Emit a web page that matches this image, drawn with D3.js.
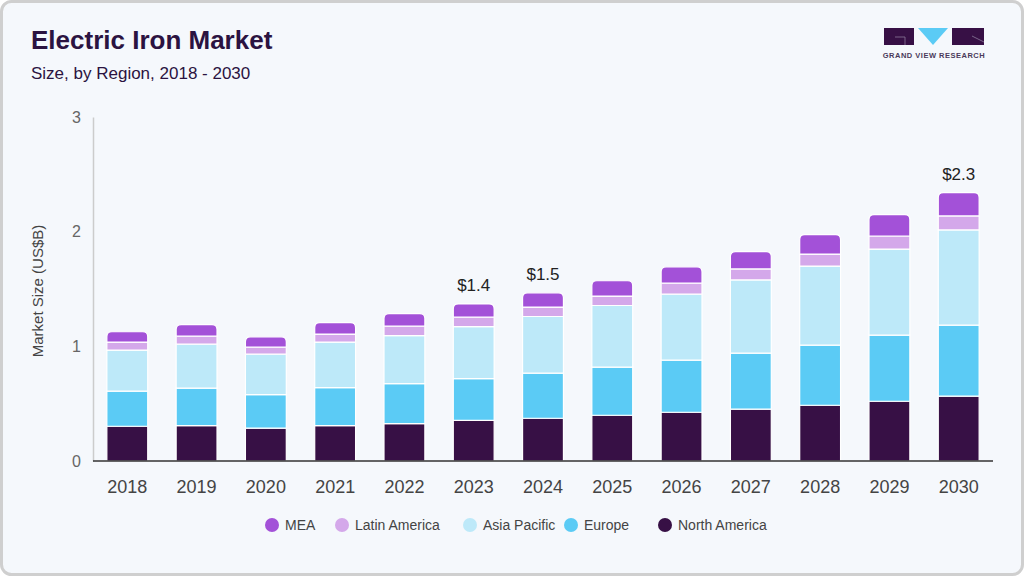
<!DOCTYPE html>
<html>
<head>
<meta charset="utf-8">
<script src="https://d3js.org/d3.v7.min.js"></script>
<style>
  html, body { margin: 0; padding: 0; background: #fff; }
  svg { display: block; font-family: "Liberation Sans", Arial, sans-serif; }
</style>
</head>
<body>
<div id="chart"></div>
<script>
// ---------- DATA ----------
var years = ["2018","2019","2020","2021","2022","2023","2024","2025","2026","2027","2028","2029","2030"];
var northAmerica = [0.303,0.308,0.286,0.308,0.326,0.355,0.373,0.399,0.425,0.452,0.486,0.521,0.565];
var europe       = [0.306,0.327,0.293,0.332,0.349,0.363,0.393,0.419,0.454,0.489,0.524,0.576,0.620];
var asiaPacific  = [0.358,0.384,0.353,0.397,0.419,0.454,0.494,0.538,0.576,0.638,0.690,0.751,0.830];
var latinAmerica = [0.070,0.070,0.061,0.070,0.082,0.082,0.082,0.082,0.096,0.096,0.105,0.114,0.122];
var mea          = [0.090,0.101,0.090,0.099,0.110,0.116,0.125,0.134,0.142,0.151,0.169,0.186,0.203];
var seriesNames = ["North America","Europe","Asia Pacific","Latin America","MEA"];
var seriesColors = ["#371045","#5BCBF5","#BDE9F9","#D4A8EA","#A351D8"];
var callouts = {"2023": "$1.4", "2024": "$1.5", "2030": "$2.3"};
var yTicks = [0,1,2,3];

var width = 1024, height = 576;
var margin = {left: 93, right: 31, top: 117, bottom: 115};

var svg = d3.select("#chart").append("svg")
  .attr("width", width).attr("height", height);

// card background
svg.append("rect")
  .attr("x", 1.5).attr("y", 1.5)
  .attr("width", width - 3).attr("height", height - 3)
  .attr("rx", 10)
  .style("fill", "#F5F8FC")
  .style("stroke", "#cfcfcf")
  .style("stroke-width", 3);

// ---------- TITLE -----------
svg.append("text").attr("x", 31).attr("y", 49)
  .text("Electric Iron Market")
  .style("font-size", "26px").style("font-weight", "bold").style("fill", "#2B1341");
svg.append("text").attr("x", 31).attr("y", 79)
  .text("Size, by Region, 2018 - 2030")
  .style("font-size", "17px").style("fill", "#2B1341");

// logo
var logo = svg.append("g");
logo.append("rect").attr("x", 884).attr("y", 28).attr("width", 30).attr("height", 17).style("fill", "#371045");
logo.append("path").attr("d", "M905,37 L905,45 M895,37 L905,37").style("stroke", "#8a7a9a").style("stroke-width", 0.8);
logo.append("path").attr("d", "M918,28 L948,28 L933,45 Z").style("fill", "#5BCBF5");
logo.append("rect").attr("x", 952).attr("y", 28).attr("width", 32).attr("height", 17).style("fill", "#371045");
logo.append("path").attr("d", "M972,36 L984,42").style("stroke", "#8a7a9a").style("stroke-width", 0.8);
logo.append("text").attr("x", 934).attr("y", 58).attr("text-anchor", "middle")
  .text("GRAND VIEW RESEARCH")
  .style("font-size", "7.5px").style("font-weight", "bold").style("fill", "#4a3a5a").style("letter-spacing", "0.5px");

// ---------- SCALES ----------
var x = d3.scaleBand().domain(years)
  .range([margin.left, width - margin.right])
  .paddingInner(0.41).paddingOuter(0.2);
var y = d3.scaleLinear().domain([0, 3])
  .range([height - margin.bottom, margin.top]);

var rows = years.map(function(yr, i) {
  return {year: yr, na: northAmerica[i], eu: europe[i], ap: asiaPacific[i], la: latinAmerica[i], mea: mea[i]};
});
var keys = ["na","eu","ap","la","mea"];
var stacked = d3.stack().keys(keys)(rows);

// axes
var yAxis = svg.append("g").attr("transform", "translate(" + margin.left + ",0)")
  .call(d3.axisLeft(y).tickValues(yTicks).tickSize(0).tickPadding(12).tickFormat(d3.format("d")));
yAxis.select(".domain").style("stroke", "#ccc").style("stroke-width", 1.5);
yAxis.selectAll("text").style("font-size", "16px").style("fill", "#666").style("font-family", "Liberation Sans, Arial, sans-serif");

svg.append("text")
  .attr("transform", "translate(43," + ((margin.top + height - margin.bottom) / 2 + 2) + ") rotate(-90)")
  .attr("text-anchor", "middle")
  .text("Market Size (US$B)")
  .style("font-size", "15px").style("fill", "#444");

// bars
var layers = svg.selectAll(".layer").data(stacked).enter().append("g")
  .attr("class", "layer")
  .style("fill", function(d, i) { return seriesColors[i]; });

var r = 5;
layers.selectAll("path").data(function(d) { return d.map(function(p) { p.top = (d.key === "mea"); return p; }); })
  .enter().append("path")
  .attr("d", function(d) {
    var x0 = x(d.data.year), w = x.bandwidth();
    var y0 = y(d[1]), y1 = y(d[0]);
    if (d.top) {
      return "M" + x0 + "," + y1 + " L" + x0 + "," + (y0 + r) +
        " Q" + x0 + "," + y0 + " " + (x0 + r) + "," + y0 +
        " L" + (x0 + w - r) + "," + y0 +
        " Q" + (x0 + w) + "," + y0 + " " + (x0 + w) + "," + (y0 + r) +
        " L" + (x0 + w) + "," + y1 + " Z";
    }
    return "M" + x0 + "," + y1 + " L" + x0 + "," + y0 + " L" + (x0 + w) + "," + y0 + " L" + (x0 + w) + "," + y1 + " Z";
  })
  .style("stroke", "#ffffff")
  .style("stroke-width", 1.2);

// x axis
var xAxis = svg.append("g").attr("transform", "translate(0," + y(0) + ")")
  .call(d3.axisBottom(x).tickSize(0).tickPadding(19));
xAxis.select(".domain").attr("d", "M" + margin.left + ",0H" + (width - margin.right))
  .style("stroke", "#333").style("stroke-width", 1.5);
xAxis.selectAll("text").style("font-size", "18px").style("fill", "#444").style("font-family", "Liberation Sans, Arial, sans-serif");

// callouts
rows.forEach(function(d, i) {
  if (callouts[d.year]) {
    var total = d.na + d.eu + d.ap + d.la + d.mea;
    svg.append("text")
      .attr("x", x(d.year) + x.bandwidth() / 2)
      .attr("y", y(total) - 13)
      .attr("text-anchor", "middle")
      .text(callouts[d.year])
      .style("font-size", "17px").style("fill", "#222");
  }
});

// legend
var legendOrder = [4,3,2,1,0];
var legendX = [272, 342, 470, 571, 665];
var legend = svg.append("g");
legendOrder.forEach(function(si, k) {
  legend.append("circle").attr("cx", legendX[k]).attr("cy", 525).attr("r", 7).style("fill", seriesColors[si]);
  legend.append("text").attr("x", legendX[k] + 13).attr("y", 530)
    .text(seriesNames[si]).style("font-size", "14px").style("fill", "#444");
});
</script>
</body>
</html>
